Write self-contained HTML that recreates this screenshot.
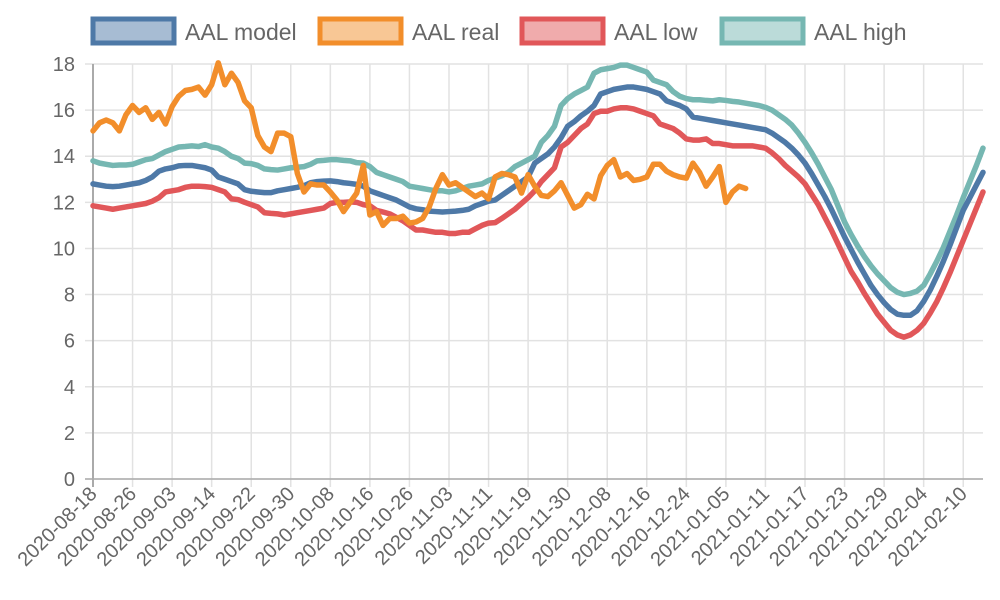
<!DOCTYPE html>
<html><head><meta charset="utf-8"><style>
html,body{margin:0;padding:0;background:#fff;}
svg{display:block;font-family:"Liberation Sans",sans-serif;}
</style></head><body>
<svg id="chart" width="1000" height="600" viewBox="0 0 1000 600"></svg>
<script>
const tickLabels=["2020-08-18","2020-08-26","2020-09-03","2020-09-14","2020-09-22","2020-09-30","2020-10-08","2020-10-16","2020-10-26","2020-11-03","2020-11-11","2020-11-19","2020-11-30","2020-12-08","2020-12-16","2020-12-24","2021-01-05","2021-01-11","2021-01-17","2021-01-23","2021-01-29","2021-02-04","2021-02-10"];
const categoryCount=136;
const yTicks=[0,2,4,6,8,10,12,14,16,18];
const modelValues=[12.8,12.75,12.7,12.68,12.7,12.75,12.8,12.85,12.95,13.1,13.35,13.45,13.5,13.58,13.6,13.6,13.55,13.5,13.4,13.1,13.0,12.9,12.8,12.55,12.48,12.45,12.42,12.42,12.5,12.55,12.6,12.65,12.72,12.85,12.9,12.92,12.93,12.9,12.85,12.82,12.78,12.7,12.5,12.4,12.3,12.2,12.1,11.95,11.8,11.72,11.68,11.62,11.6,11.58,11.6,11.62,11.65,11.7,11.85,11.95,12.05,12.1,12.3,12.5,12.7,12.9,13.1,13.7,13.9,14.1,14.4,14.8,15.3,15.5,15.75,15.95,16.2,16.7,16.8,16.9,16.95,17.0,17.0,16.95,16.9,16.8,16.7,16.4,16.3,16.2,16.05,15.7,15.65,15.6,15.55,15.5,15.45,15.4,15.35,15.3,15.25,15.2,15.15,15.0,14.8,14.6,14.35,14.05,13.7,13.25,12.75,12.25,11.7,11.1,10.5,9.95,9.4,8.9,8.4,8.0,7.65,7.35,7.15,7.1,7.1,7.3,7.7,8.2,8.8,9.45,10.15,10.9,11.65,12.2,12.75,13.3];
const realValues=[15.1,15.45,15.57,15.45,15.1,15.8,16.2,15.9,16.1,15.6,15.9,15.4,16.15,16.6,16.85,16.9,17.0,16.65,17.1,18.05,17.1,17.6,17.2,16.4,16.1,14.9,14.4,14.2,15.0,15.0,14.85,13.25,12.45,12.8,12.75,12.75,12.45,12.1,11.6,12.0,12.4,13.6,11.45,11.6,11.0,11.3,11.3,11.4,11.1,11.15,11.3,11.8,12.6,13.2,12.75,12.85,12.65,12.45,12.25,12.4,12.15,13.1,13.25,13.2,13.1,12.4,13.2,12.7,12.3,12.25,12.5,12.85,12.3,11.75,11.9,12.35,12.15,13.15,13.6,13.85,13.1,13.25,12.95,13.0,13.1,13.65,13.65,13.35,13.2,13.1,13.05,13.7,13.3,12.7,13.1,13.55,12.0,12.45,12.7,12.6];
const lowValues=[11.85,11.8,11.75,11.7,11.75,11.8,11.85,11.9,11.95,12.05,12.2,12.45,12.5,12.55,12.65,12.7,12.7,12.68,12.65,12.55,12.45,12.15,12.12,12.0,11.9,11.8,11.55,11.52,11.5,11.45,11.5,11.55,11.6,11.65,11.7,11.75,11.95,12.0,12.0,12.02,12.0,11.9,11.85,11.65,11.58,11.5,11.35,11.2,11.0,10.8,10.8,10.75,10.7,10.7,10.65,10.65,10.7,10.7,10.85,11.0,11.1,11.12,11.3,11.5,11.7,11.95,12.2,12.5,12.9,13.2,13.5,14.4,14.6,14.9,15.2,15.4,15.85,15.95,15.95,16.05,16.1,16.1,16.05,15.95,15.85,15.75,15.4,15.3,15.2,15.0,14.75,14.7,14.7,14.75,14.55,14.55,14.5,14.45,14.45,14.45,14.45,14.4,14.35,14.15,13.9,13.6,13.35,13.1,12.8,12.35,11.9,11.35,10.8,10.2,9.6,9.0,8.55,8.05,7.6,7.15,6.8,6.45,6.25,6.15,6.25,6.45,6.75,7.2,7.7,8.3,8.95,9.65,10.35,11.05,11.75,12.45];
const highValues=[13.8,13.7,13.65,13.6,13.62,13.62,13.65,13.75,13.85,13.9,14.05,14.2,14.3,14.4,14.42,14.45,14.42,14.5,14.4,14.35,14.2,14.0,13.9,13.7,13.68,13.6,13.45,13.42,13.4,13.45,13.5,13.52,13.55,13.65,13.8,13.82,13.85,13.85,13.82,13.8,13.72,13.7,13.55,13.3,13.2,13.1,13.0,12.9,12.7,12.65,12.6,12.55,12.5,12.5,12.45,12.5,12.6,12.7,12.75,12.8,12.95,13.05,13.15,13.3,13.55,13.7,13.85,14.0,14.6,14.9,15.3,16.2,16.5,16.7,16.85,17.0,17.6,17.75,17.8,17.85,17.95,17.95,17.85,17.75,17.65,17.3,17.2,17.1,16.8,16.6,16.5,16.45,16.45,16.42,16.4,16.45,16.42,16.38,16.35,16.3,16.25,16.2,16.12,16.0,15.8,15.6,15.35,15.0,14.6,14.15,13.65,13.1,12.55,11.85,11.15,10.6,10.1,9.65,9.25,8.9,8.6,8.3,8.1,8.0,8.05,8.15,8.4,8.9,9.45,10.05,10.75,11.45,12.2,12.9,13.6,14.35];

const NS="http://www.w3.org/2000/svg";
const svg=document.getElementById('chart');
const L=93,R=983,T=64,B=479,yMax=18;
function xScale(i){return L+i*(R-L)/(categoryCount-1);}
function yScale(v){return B-v/yMax*(B-T);}
function mk(tag,attrs,parent){const e=document.createElementNS(NS,tag);for(const k in attrs)e.setAttribute(k,attrs[k]);(parent||svg).appendChild(e);return e;}

const grid=mk('g',{});


yTicks.forEach(t=>{
  const y=yScale(t);
  const ln=mk('line',{x1:L-8,x2:R,y1:y,y2:y,stroke:'#e2e2e2','stroke-width':1.5},grid);
  
  
  const tx=mk('text',{x:75,y:y+7,'text-anchor':'end','font-size':20,fill:'#666'});
  tx.textContent=t;
  
  
});
tickLabels.forEach((lab,k)=>{
  const x=xScale(k*6);
  const ln=mk('line',{x1:x,x2:x,y1:T,y2:B+8,stroke:'#e2e2e2','stroke-width':1.5},grid);
  
  
  const tx=mk('text',{x:x+5,y:B+16,'text-anchor':'end','font-size':20,fill:'#666',transform:`rotate(-45 ${x+5} ${B+16})`});
  tx.textContent=lab;
  
  
});
const yAxis=mk('line',{x1:L,x2:L,y1:T,y2:B+8,stroke:'#aaa','stroke-width':2});


const xAxis=mk('line',{x1:L-8,x2:R,y1:B,y2:B,stroke:'#aaa','stroke-width':1.5});



function drawSeries(vals,color,name){
  const d=vals.map((v,i)=>(i?'L':'M')+xScale(i).toFixed(2)+' '+yScale(v).toFixed(2)).join(' ');
  const p=mk('path',{d:d,fill:'none',stroke:color,'stroke-width':5.5,'stroke-linejoin':'round','stroke-linecap':'round'});
  
  
}
drawSeries(highValues,'#76b7b2','aal-high-line');
drawSeries(lowValues,'#e15759','aal-low-line');
drawSeries(modelValues,'#4e79a7','aal-model-line');
drawSeries(realValues,'#f28e2b','aal-real-line');

const legend=[["AAL model","#4e79a7","#a7bcd3",91],["AAL real","#f28e2b","#f8c795",318],["AAL low","#e15759","#f0abac",520],["AAL high","#76b7b2","#bbdbd9",720]];
const lg=mk('g',{});


legend.forEach(([lab,stroke,fill,x])=>{
  const g=mk('g',{},lg);
  
  
  mk('rect',{x:x+2,y:19,width:81,height:24,fill:fill,stroke:stroke,'stroke-width':5},g);
  const tx=mk('text',{x:x+94,y:40,'font-size':23,fill:'#666'},g);
  tx.textContent=lab;
});
</script>
</body></html>
